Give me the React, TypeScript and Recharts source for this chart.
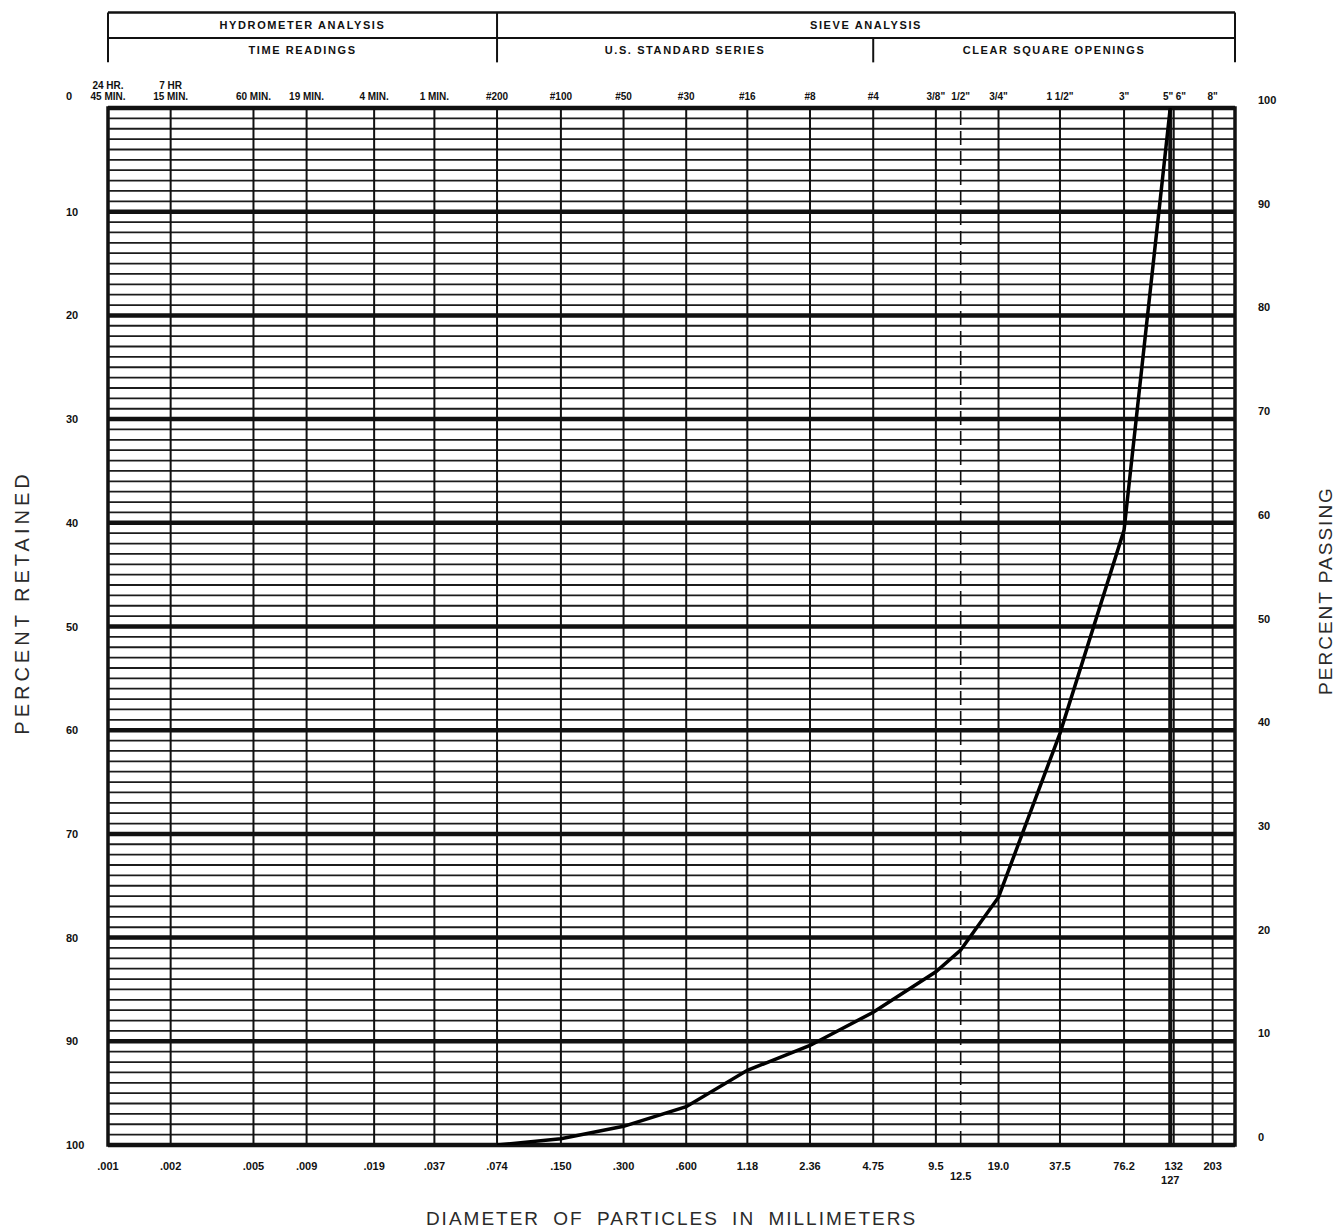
import React from 'react';
import { LineChart, Line, XAxis, YAxis, ReferenceLine, ReferenceArea } from 'recharts';

// Grain size curve (percent passing at each sieve diameter, mm)
const diameters = [0.074, 0.15, 0.3, 0.6, 1.18, 2.36, 4.75, 9.5, 12.5, 19.0, 37.5, 76.2, 127];
const percentPassing = [0, 0.6, 1.8, 3.7, 7.2, 9.6, 12.8, 16.7, 18.8, 23.9, 39.7, 59.3, 100];

// Axis ticks
const sizeTicks = [0.001, 0.002, 0.005, 0.009, 0.019, 0.037, 0.074, 0.15, 0.3, 0.6, 1.18, 2.36, 4.75, 9.5, 12.5, 19.0, 37.5, 76.2, 127, 132, 203];
const bottomLabels = ['.001', '.002', '.005', '.009', '.019', '.037', '.074', '.150', '.300', '.600', '1.18', '2.36', '4.75', '9.5', '12.5', '19.0', '37.5', '76.2', '127', '132', '203'];
const topLabelsLine1 = ['24 HR.', '7 HR', '', '', '', '', '', '', '', '', '', '', '', '', '', '', '', '', '', '', ''];
const topLabelsLine2 = ['45 MIN.', '15 MIN.', '60 MIN.', '19 MIN.', '4 MIN.', '1 MIN.', '#200', '#100', '#50', '#30', '#16', '#8', '#4', '3/8"', '1/2"', '3/4"', '1 1/2"', '3"', '5"', '6"', '8"'];
const percentTicks = [0, 10, 20, 30, 40, 50, 60, 70, 80, 90, 100];
const minorPercentLines = Array.from({ length: 101 }, (_, i) => i).filter((v) => v % 10 !== 0);

// Header table
const headerRow1 = [
  { from: 0.001, to: 0.074, text: 'HYDROMETER ANALYSIS' },
  { from: 0.074, to: 260, text: 'SIEVE ANALYSIS' },
];
const headerRow2 = [
  { from: 0.001, to: 0.074, text: 'TIME READINGS' },
  { from: 0.074, to: 4.75, text: 'U.S. STANDARD SERIES' },
  { from: 4.75, to: 260, text: 'CLEAR SQUARE OPENINGS' },
];

const X_DOMAIN: [number, number] = [0.001, 260];
const H_TOP = 109.2;
const H_MID = 106.75;
const H_BOT = 104.4;

const data = diameters.map((d, i) => ({ d, p: percentPassing[i] }));

const FONT = "'Liberation Sans', Arial, sans-serif";
const tickStyle = { fontFamily: FONT, fontSize: 11, fontWeight: 700, fill: '#111' };
const headerStyle = { fontFamily: FONT, fontSize: 11, fontWeight: 700, letterSpacing: 1.6, fill: '#111' };

const BottomTick = (props: any) => {
  const { x, y, payload } = props;
  const i = sizeTicks.indexOf(payload.value);
  const label = bottomLabels[i] ?? '';
  const drop = label === '12.5' ? 10 : label === '127' ? 14 : 0;
  return (
    <text x={x} y={y + 17 + drop} textAnchor="middle" {...tickStyle}>
      {label}
    </text>
  );
};

const TopTick = (props: any) => {
  const { x, y, payload } = props;
  const i = sizeTicks.indexOf(payload.value);
  const label = topLabelsLine2[i];
  let anchor: 'middle' | 'start' | 'end' = 'middle';
  let tx = x;
  if (payload.value === 127) { anchor = 'end'; tx = x + 3; }
  if (payload.value === 132) { anchor = 'start'; tx = x + 2; }
  return (
    <g>
      {topLabelsLine1[i] ? (
        <text x={x} y={y - 11} textAnchor="middle" {...tickStyle} fontSize={10}>
          {topLabelsLine1[i]}
        </text>
      ) : null}
      <text x={tx} y={y} textAnchor={anchor} {...tickStyle} fontSize={10}>
        {label}
      </text>
    </g>
  );
};

const LeftTick = (props: any) => {
  const { x, y, payload } = props;
  const dy = payload.value === 0 ? -8 : 4;
  return (
    <text x={x - 34} y={y + dy} textAnchor="start" {...tickStyle}>
      {payload.value}
    </text>
  );
};

const RightTick = (props: any) => {
  const { x, y, payload } = props;
  return (
    <text x={x + 15} y={y - 4} textAnchor="start" {...tickStyle}>
      {payload.value}
    </text>
  );
};

const makeSideTitle = (text: string, dxFromLeft: number, dy: number, size: number, spacing: number) => (p: any) => {
  const vb = p.viewBox;
  const cx = vb.x + dxFromLeft;
  const cy = vb.y + vb.height / 2 + dy;
  return (
    <text
      x={cx}
      y={cy}
      transform={`rotate(-90, ${cx}, ${cy})`}
      textAnchor="middle"
      dominantBaseline="central"
      fontFamily={FONT}
      fontSize={size}
      letterSpacing={spacing}
      fill="#2a2a2a"
    >
      {text}
    </text>
  );
};

const verticalStyle = (v: number) => {
  if (v === 12.5) return { stroke: '#111', strokeWidth: 1.6, strokeDasharray: '14 6' };
  if (v === 127) return { stroke: '#111', strokeWidth: 4, strokeDasharray: undefined };
  return { stroke: '#111', strokeWidth: 2, strokeDasharray: undefined };
};

export default function App() {
  return (
    <div style={{ width: 1343, height: 1230, background: '#fff' }}>
      <style>{'body{margin:0;}'}</style>
      <LineChart
        width={1343}
        height={1230}
        data={data}
        margin={{ top: 68, right: 8, bottom: 0, left: 8 }}
      >
        <XAxis
          xAxisId="bottom"
          dataKey="d"
          type="number"
          scale="log"
          domain={X_DOMAIN}
          allowDataOverflow
          ticks={sizeTicks}
          interval={0}
          tickLine={false}
          axisLine={false}
          height={85}
          tick={<BottomTick />}
          label={{
            value: 'DIAMETER OF PARTICLES IN MILLIMETERS',
            position: 'insideBottom',
            offset: 5,
            style: { fontFamily: FONT, fontSize: 19, letterSpacing: 2, wordSpacing: 6, fill: '#2a2a2a' },
          }}
        />
        <XAxis
          xAxisId="top"
          orientation="top"
          dataKey="d"
          type="number"
          scale="log"
          domain={X_DOMAIN}
          allowDataOverflow
          ticks={sizeTicks}
          interval={0}
          tickLine={false}
          axisLine={false}
          height={40}
          tick={<TopTick />}
        />
        <YAxis
          yAxisId="ret"
          orientation="left"
          type="number"
          domain={[0, 100]}
          reversed
          allowDataOverflow
          ticks={percentTicks}
          interval={0}
          tickLine={false}
          axisLine={false}
          width={100}
          tick={<LeftTick />}
          label={{ content: makeSideTitle('PERCENT RETAINED', 14, -24, 20, 4) }}
        />
        <YAxis
          yAxisId="pass"
          orientation="right"
          type="number"
          domain={[0, 100]}
          allowDataOverflow
          ticks={percentTicks}
          interval={0}
          tickLine={false}
          axisLine={false}
          width={100}
          tick={<RightTick />}
          label={{ content: makeSideTitle('PERCENT PASSING', 90, -36, 19, 2) }}
        />

        {minorPercentLines.map((v) => (
          <ReferenceLine
            key={`h${v}`}
            xAxisId="bottom"
            yAxisId="pass"
            y={v}
            stroke="#1c1c1c"
            strokeWidth={1.8}
          />
        ))}
        {percentTicks.map((v) => (
          <ReferenceLine
            key={`H${v}`}
            xAxisId="bottom"
            yAxisId="pass"
            y={v}
            stroke="#111"
            strokeWidth={4.5}
          />
        ))}
        {sizeTicks.map((v) => {
          const s = verticalStyle(v);
          return (
            <ReferenceLine
              key={`v${v}`}
              xAxisId="bottom"
              yAxisId="pass"
              x={v}
              stroke={s.stroke}
              strokeWidth={s.strokeWidth}
              strokeDasharray={s.strokeDasharray}
            />
          );
        })}
        <ReferenceArea
          xAxisId="bottom"
          yAxisId="pass"
          x1={X_DOMAIN[0]}
          x2={X_DOMAIN[1]}
          y1={0}
          y2={100}
          fill="none"
          fillOpacity={0}
          stroke="#111"
          strokeWidth={3.5}
          ifOverflow="visible"
        />

        {/* Header table */}
        <ReferenceLine xAxisId="bottom" yAxisId="pass" ifOverflow="visible" stroke="#111" strokeWidth={2.5}
          segment={[{ x: X_DOMAIN[0], y: H_TOP }, { x: X_DOMAIN[1], y: H_TOP }]} />
        <ReferenceLine xAxisId="bottom" yAxisId="pass" ifOverflow="visible" stroke="#111" strokeWidth={2}
          segment={[{ x: X_DOMAIN[0], y: H_MID }, { x: X_DOMAIN[1], y: H_MID }]} />
        <ReferenceLine xAxisId="bottom" yAxisId="pass" ifOverflow="visible" stroke="#111" strokeWidth={2}
          segment={[{ x: X_DOMAIN[0], y: H_BOT }, { x: X_DOMAIN[0], y: H_TOP }]} />
        <ReferenceLine xAxisId="bottom" yAxisId="pass" ifOverflow="visible" stroke="#111" strokeWidth={2}
          segment={[{ x: X_DOMAIN[1], y: H_BOT }, { x: X_DOMAIN[1], y: H_TOP }]} />
        <ReferenceLine xAxisId="bottom" yAxisId="pass" ifOverflow="visible" stroke="#111" strokeWidth={2}
          segment={[{ x: 0.074, y: H_BOT }, { x: 0.074, y: H_TOP }]} />
        <ReferenceLine xAxisId="bottom" yAxisId="pass" ifOverflow="visible" stroke="#111" strokeWidth={2}
          segment={[{ x: 4.75, y: H_BOT }, { x: 4.75, y: H_MID }]} />
        {headerRow1.map((c) => (
          <ReferenceArea
            key={c.text}
            xAxisId="bottom"
            yAxisId="pass"
            x1={c.from}
            x2={c.to}
            y1={H_MID}
            y2={H_TOP}
            fill="none"
            fillOpacity={0}
            stroke="none"
            ifOverflow="visible"
            label={{ value: c.text, position: 'center', style: headerStyle }}
          />
        ))}
        {headerRow2.map((c) => (
          <ReferenceArea
            key={c.text}
            xAxisId="bottom"
            yAxisId="pass"
            x1={c.from}
            x2={c.to}
            y1={H_BOT}
            y2={H_MID}
            fill="none"
            fillOpacity={0}
            stroke="none"
            ifOverflow="visible"
            label={{ value: c.text, position: 'center', style: headerStyle }}
          />
        ))}

        <Line
          xAxisId="bottom"
          yAxisId="pass"
          type="linear"
          dataKey="p"
          stroke="#000"
          strokeWidth={3.5}
          dot={false}
          isAnimationActive={false}
        />
      </LineChart>
    </div>
  );
}
